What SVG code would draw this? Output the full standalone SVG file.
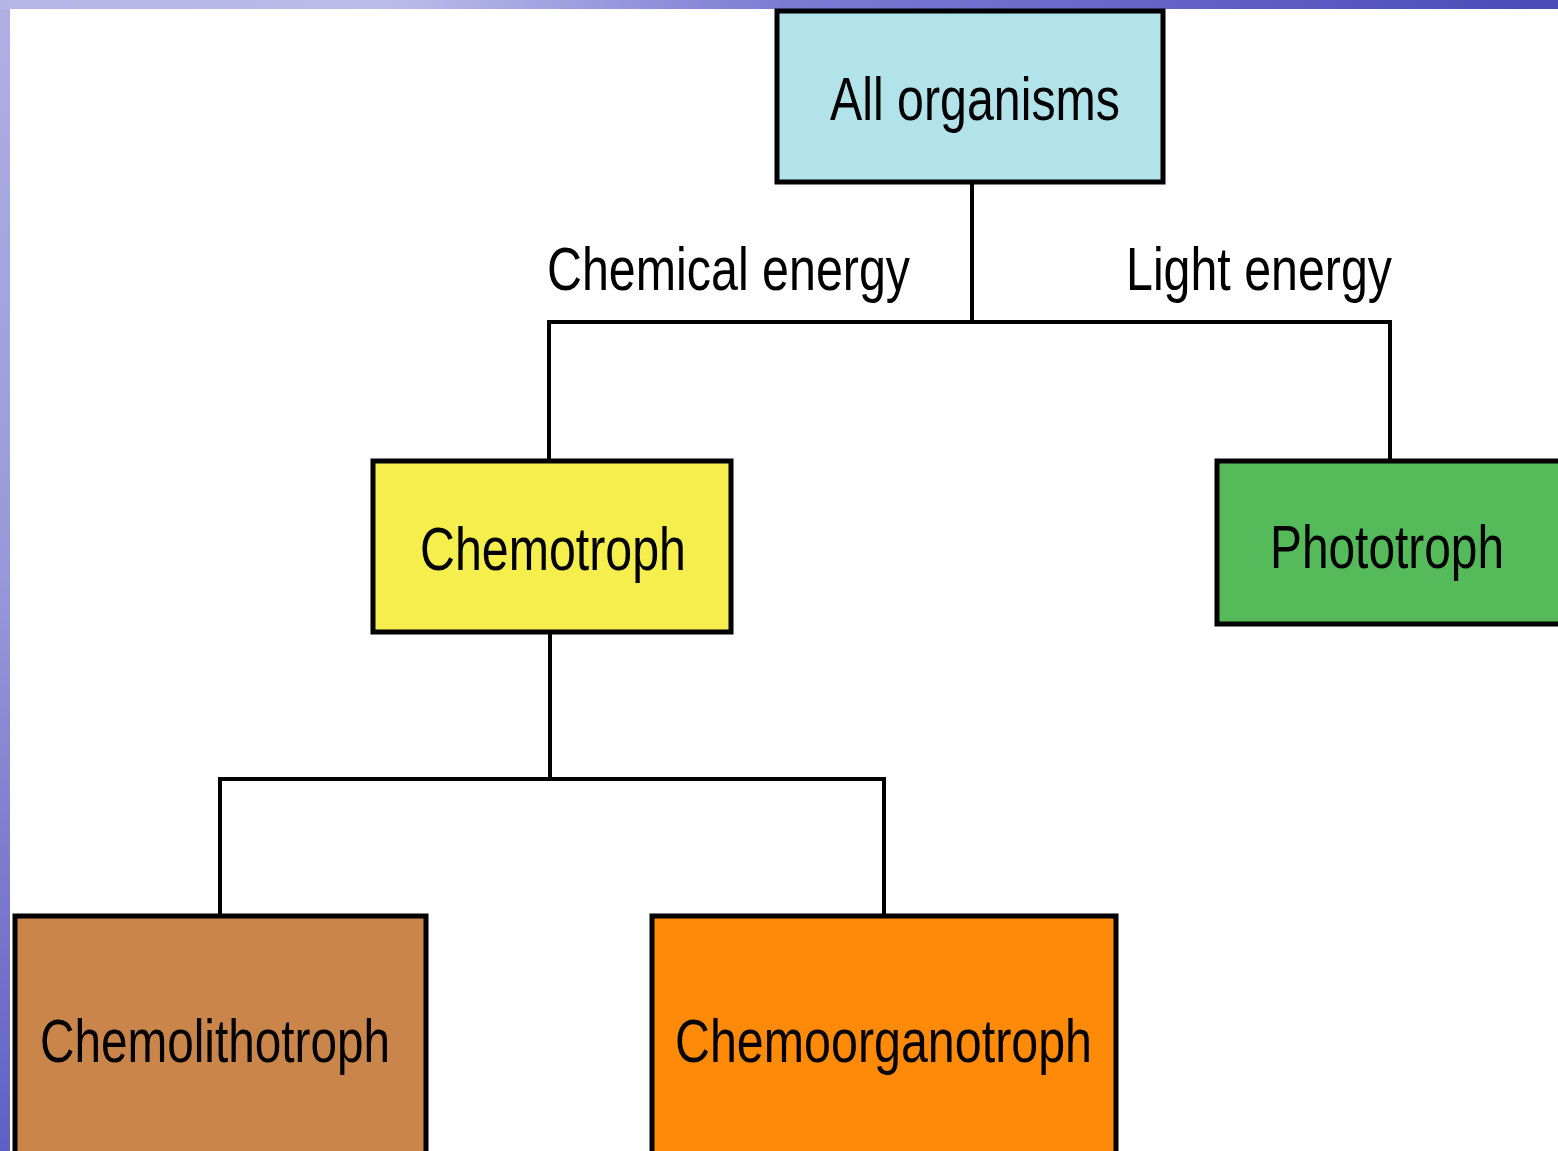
<svg xmlns="http://www.w3.org/2000/svg" width="1558" height="1151" viewBox="0 0 1558 1151">
<defs>
<linearGradient id="topband" x1="0" y1="0" x2="1" y2="0">
<stop offset="0" stop-color="#b4b4e6"/>
<stop offset="0.25" stop-color="#bcbcea"/>
<stop offset="0.5" stop-color="#7c7cd4"/>
<stop offset="1" stop-color="#4a4ab8"/>
</linearGradient>
<linearGradient id="leftband" x1="0" y1="0" x2="0" y2="1">
<stop offset="0" stop-color="#b0b0e4"/>
<stop offset="0.5" stop-color="#9898d8"/>
<stop offset="1" stop-color="#6060c4"/>
</linearGradient>
<style>
.box{stroke:#000;stroke-width:5}
.lbl{font-family:"Liberation Sans",Arial,sans-serif;font-size:62px;fill:#000}
.conn{stroke:#000;stroke-width:4;fill:none}
</style>
</defs>
<rect x="0" y="0" width="1558" height="1151" fill="url(#leftband)"/>
<rect x="0" y="0" width="1558" height="9" fill="url(#topband)"/>
<rect x="10" y="9" width="1548" height="1142" fill="#ffffff"/>

<g id="connectors">
<polyline class="conn" points="972,183 972,322"/>
<polyline class="conn" points="549,460 549,322 1390,322 1390,460"/>
<polyline class="conn" points="550,633 550,779"/>
<polyline class="conn" stroke-width="5" points="220,915 220,779 884,779 884,915"/>
</g>

<g id="label-chemical">
<text class="lbl" x="547" y="290" textLength="363" lengthAdjust="spacingAndGlyphs">Chemical energy</text>
</g>
<g id="label-light">
<text class="lbl" x="1126" y="290" textLength="266" lengthAdjust="spacingAndGlyphs">Light energy</text>
</g>

<g id="node-all">
<rect class="box" x="777" y="11" width="386" height="171" fill="#b3e3ea"/>
<text class="lbl" x="830" y="120" textLength="290" lengthAdjust="spacingAndGlyphs">All organisms</text>
</g>

<g id="node-chemotroph">
<rect class="box" x="373" y="461" width="358" height="171" fill="#f6ee4c"/>
<text class="lbl" x="420" y="570" textLength="266" lengthAdjust="spacingAndGlyphs">Chemotroph</text>
</g>

<g id="node-phototroph">
<rect class="box" x="1217" y="461" width="345" height="163" fill="#55bb5a"/>
<text class="lbl" x="1270" y="568" textLength="234" lengthAdjust="spacingAndGlyphs">Phototroph</text>
</g>

<g id="node-chemolithotroph">
<rect class="box" x="15" y="916" width="411" height="240" fill="#c9854a"/>
<text class="lbl" x="40" y="1062" textLength="350" lengthAdjust="spacingAndGlyphs">Chemolithotroph</text>
</g>

<g id="node-chemoorganotroph">
<rect class="box" x="652" y="916" width="464" height="240" fill="#fe8a08"/>
<text class="lbl" x="675" y="1062" textLength="417" lengthAdjust="spacingAndGlyphs">Chemoorganotroph</text>
</g>
</svg>
